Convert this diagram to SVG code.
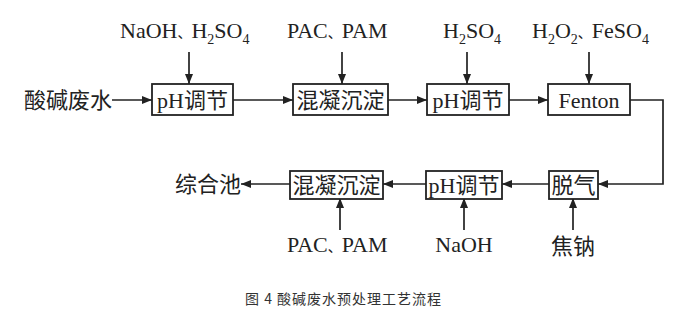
<svg xmlns="http://www.w3.org/2000/svg" width="698" height="321" viewBox="0 0 698 321">
<style>
.t{font-family:"Liberation Serif","Noto Sans CJK SC",serif;font-size:22px;fill:#222}
.s{font-size:14px}
.d{font-size:14px}
.c{font-family:"Noto Sans CJK SC","Liberation Sans",sans-serif;font-size:14px;fill:#333;letter-spacing:1px}
.box{fill:#fff;stroke:#222;stroke-width:1.8}
.ln{fill:none;stroke:#222;stroke-width:1.7}
</style>
<defs>
<marker id="ah" viewBox="0 0 10 8" refX="10" refY="4" markerWidth="10" markerHeight="8" markerUnits="userSpaceOnUse" orient="auto">
<path d="M0,0 L10,4 L0,8 Z" fill="#222"/>
</marker>
</defs>
<rect width="698" height="321" fill="#fff"/>
<g id="connectors">
<path class="ln" d="M112,100 H152" marker-end="url(#ah)"/>
<path class="ln" d="M233,100 H293" marker-end="url(#ah)"/>
<path class="ln" d="M388,100 H427" marker-end="url(#ah)"/>
<path class="ln" d="M509,100 H548" marker-end="url(#ah)"/>
<path class="ln" d="M630,100 H663 V184 H598" marker-end="url(#ah)"/>
<path class="ln" d="M549,184 H502" marker-end="url(#ah)"/>
<path class="ln" d="M426,184 H383" marker-end="url(#ah)"/>
<path class="ln" d="M290,184 H241" marker-end="url(#ah)"/>
<path class="ln" d="M189,52 V84" marker-end="url(#ah)"/>
<path class="ln" d="M342,52 V84" marker-end="url(#ah)"/>
<path class="ln" d="M467,52 V84" marker-end="url(#ah)"/>
<path class="ln" d="M589,52 V84" marker-end="url(#ah)"/>
<path class="ln" d="M340,230 V198" marker-end="url(#ah)"/>
<path class="ln" d="M464,230 V198" marker-end="url(#ah)"/>
<path class="ln" d="M573,230 V198" marker-end="url(#ah)"/>
</g>
<g id="src"><text class="t" x="24" y="108">酸碱废水</text></g>
<g id="ph1"><rect class="box" x="152" y="84" width="81" height="31"/><text class="t" x="192.5" y="108" text-anchor="middle">pH调节</text></g>
<g id="coag1"><rect class="box" x="293" y="84" width="95" height="31"/><text class="t" x="340.5" y="108" text-anchor="middle">混凝沉淀</text></g>
<g id="ph2"><rect class="box" x="427" y="84" width="82" height="31"/><text class="t" x="468" y="108" text-anchor="middle">pH调节</text></g>
<g id="fenton"><rect class="box" x="548" y="84" width="82" height="31"/><text class="t" x="589" y="108" text-anchor="middle">Fenton</text></g>
<g id="degas"><rect class="box" x="549" y="171" width="49" height="28"/><text class="t" x="573.5" y="193" text-anchor="middle">脱气</text></g>
<g id="ph3"><rect class="box" x="426" y="171" width="76" height="28"/><text class="t" x="464" y="193" text-anchor="middle">pH调节</text></g>
<g id="coag2"><rect class="box" x="290" y="171" width="93" height="28"/><text class="t" x="336.5" y="193" text-anchor="middle">混凝沉淀</text></g>
<g id="pool"><text class="t" x="175" y="192">综合池</text></g>
<g id="lbl1"><text class="t" x="120" y="38">NaOH<tspan class="d">、</tspan>H<tspan class="s" dy="6">2</tspan><tspan dy="-6">SO</tspan><tspan class="s" dy="6">4</tspan></text></g>
<g id="lbl2"><text class="t" x="287" y="38">PAC<tspan class="d">、</tspan>PAM</text></g>
<g id="lbl3"><text class="t" x="443" y="38">H<tspan class="s" dy="6">2</tspan><tspan dy="-6">SO</tspan><tspan class="s" dy="6">4</tspan></text></g>
<g id="lbl4"><text class="t" x="532" y="38">H<tspan class="s" dy="6">2</tspan><tspan dy="-6">O</tspan><tspan class="s" dy="6">2</tspan><tspan class="d" dy="-6">、</tspan>FeSO<tspan class="s" dy="6">4</tspan></text></g>
<g id="lbl5"><text class="t" x="287" y="252">PAC<tspan class="d">、</tspan>PAM</text></g>
<g id="lbl6"><text class="t" x="464" y="252" text-anchor="middle">NaOH</text></g>
<g id="lbl7"><text class="t" x="573" y="254" text-anchor="middle">焦钠</text></g>
<text class="c" x="245" y="304">图 4 酸碱废水预处理工艺流程</text>
</svg>
